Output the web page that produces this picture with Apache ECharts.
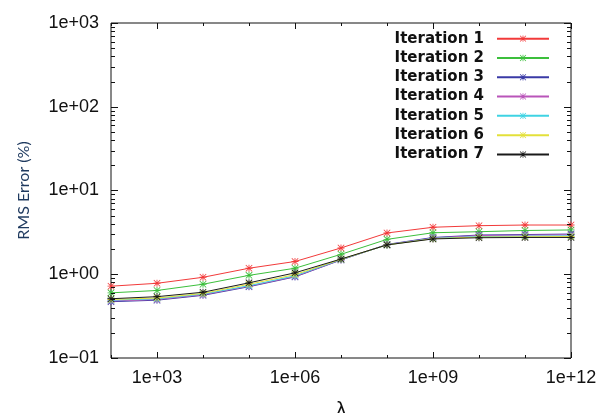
<!DOCTYPE html>
<html>
<head>
<meta charset="utf-8">
<script src="https://cdn.jsdelivr.net/npm/echarts@6/dist/echarts.min.js"></script>
<style>
  html, body { margin: 0; padding: 0; background: #fff; }
  #chart { width: 599px; height: 413px; }
</style>
</head>
<body>
<div id="chart"></div>
<script>
// Regularisation parameter values (one point per decade)
const lambdaValues = [1e2, 1e3, 1e4, 1e5, 1e6, 1e7, 1e8, 1e9, 1e10, 1e11, 1e12];

// RMS error (%) for each iteration
const iteration1 = [0.72, 0.78, 0.92, 1.18, 1.42, 2.06, 3.11, 3.64, 3.80, 3.87, 3.87];
const iteration2 = [0.60, 0.64, 0.76, 0.97, 1.18, 1.73, 2.61, 3.13, 3.22, 3.33, 3.38];
const iteration3 = [0.47, 0.49, 0.56, 0.71, 0.93, 1.48, 2.27, 2.75, 2.94, 2.98, 3.02];
const iteration4 = [0.48, 0.50, 0.57, 0.72, 0.94, 1.49, 2.25, 2.70, 2.90, 2.93, 2.95];
const iteration5 = [0.49, 0.51, 0.58, 0.73, 0.96, 1.50, 2.24, 2.68, 2.82, 2.85, 2.87];
const iteration6 = [0.50, 0.52, 0.59, 0.76, 0.99, 1.51, 2.24, 2.66, 2.78, 2.80, 2.82];
const iteration7 = [0.51, 0.54, 0.61, 0.79, 1.04, 1.52, 2.24, 2.64, 2.73, 2.75, 2.75];

const seriesNames = ['Iteration 1', 'Iteration 2', 'Iteration 3', 'Iteration 4',
                     'Iteration 5', 'Iteration 6', 'Iteration 7'];
const seriesValues = [iteration1, iteration2, iteration3, iteration4,
                      iteration5, iteration6, iteration7];
const seriesColors = ['#f23a3a', '#3cbf3c', '#3a3aa6', '#b955b9', '#3fd3e3', '#e3e03a', '#1a1a1a'];

// Axis ranges and tick positions
const xMin = 1e2, xMax = 1e12;
const yMin = 1e-1, yMax = 1e3;
const xDecadeTicks = [1e2, 1e3, 1e4, 1e5, 1e6, 1e7, 1e8, 1e9, 1e10, 1e11, 1e12];
const xLabelledTicks = [1e3, 1e6, 1e9, 1e12];
const yDecadeTicks = [1e-1, 1e0, 1e1, 1e2, 1e3];
const yMantissas = [2, 3, 4, 5, 6, 7, 8, 9];

// asterisk marker (plus + cross)
const asterisk = 'path://M0 4.4H10V5.6H0Z M4.4 0H5.6V10H4.4Z M0.8 0L10 9.2L9.2 10L0 0.8Z M9.2 0L10 0.8L0.8 10L0 9.2Z';

function expLabel(v) {
  const e = Math.round(Math.log10(v));
  const a = Math.abs(e);
  return '1e' + (e < 0 ? '\u2212' : '+') + (a < 10 ? '0' + a : '' + a);
}

// tick marks drawn inside the frame on all four sides
const tickData = [];
xDecadeTicks.forEach(v => {
  const major = xLabelledTicks.indexOf(v) >= 0;
  tickData.push([v, 1, 0, major ? 6 : 3]);
});
yDecadeTicks.forEach(v => tickData.push([xMin, v, 1, 7]));
for (let i = 0; i < yDecadeTicks.length - 1; i++) {
  yMantissas.forEach(m => tickData.push([xMin, yDecadeTicks[i] * m, 1, 4]));
}

function renderTick(params, api) {
  const kind = api.value(2);
  const len = api.value(3);
  const style = { stroke: '#111', lineWidth: 1 };
  if (kind === 0) {
    const b = api.coord([api.value(0), yMin]);
    const t = api.coord([api.value(0), yMax]);
    const x = Math.round(b[0]) + 0.5;
    return { type: 'group', children: [
      { type: 'line', shape: { x1: x, y1: b[1], x2: x, y2: b[1] - len }, style: style },
      { type: 'line', shape: { x1: x, y1: t[1], x2: x, y2: t[1] + len }, style: style }
    ]};
  }
  const l = api.coord([xMin, api.value(1)]);
  const r = api.coord([xMax, api.value(1)]);
  const y = Math.round(l[1]) + 0.5;
  return { type: 'group', children: [
    { type: 'line', shape: { x1: l[0], y1: y, x2: l[0] + len, y2: y }, style: style },
    { type: 'line', shape: { x1: r[0], y1: y, x2: r[0] - len, y2: y }, style: style }
  ]};
}

const chart = echarts.init(document.getElementById('chart'), null, { renderer: 'canvas' });

const lineSeries = seriesNames.map((name, i) => ({
  name: name,
  type: 'line',
  data: lambdaValues.map((x, j) => [x, seriesValues[i][j]]),
  symbol: asterisk,
  symbolSize: 7,
  showAllSymbol: true,
  lineStyle: { width: 1, color: seriesColors[i] },
  itemStyle: { color: seriesColors[i] },
  emphasis: { disabled: true },
  animation: false,
  z: 3 + i
}));

chart.setOption({
  animation: false,
  backgroundColor: '#ffffff',
  grid: {
    left: 111, right: 28, top: 23, bottom: 55,
    containLabel: false,
    outerBoundsMode: 'none',
    show: true, borderColor: '#111', borderWidth: 1, backgroundColor: 'transparent'
  },
  legend: {
    data: seriesNames,
    orient: 'vertical',
    align: 'right',
    right: 44,
    top: 24,
    itemWidth: 52,
    itemHeight: 8,
    itemGap: 0,
    selectedMode: false,
    textStyle: {
      fontFamily: 'DejaVu Sans',
      fontWeight: 'bold',
      fontSize: 15,
      color: '#111',
      lineHeight: 19.3,
      padding: [0, 8, 0, 0]
    }
  },
  xAxis: {
    type: 'log',
    logBase: 10,
    min: xMin,
    max: xMax,
    splitNumber: 10,
    name: '\u03bb',
    nameLocation: 'middle',
    nameGap: 44,
    nameTextStyle: { fontFamily: 'DejaVu Sans', fontSize: 19, color: '#111' },
    axisLine: { show: false },
    axisTick: { show: false },
    splitLine: { show: false },
    axisLabel: {
      margin: 11,
      fontFamily: 'Liberation Sans',
      fontSize: 18,
      color: '#111',
      formatter: v => {
        const e = Math.round(Math.log10(v));
        return e % 3 === 0 ? expLabel(v) : '';
      }
    }
  },
  yAxis: {
    type: 'log',
    logBase: 10,
    min: yMin,
    max: yMax,
    splitNumber: 4,
    name: 'RMS Error (%)',
    nameLocation: 'middle',
    nameGap: 79,
    nameTextStyle: { fontFamily: 'Lato', fontSize: 16, color: '#1f3a5f' },
    axisLine: { show: false },
    axisTick: { show: false },
    splitLine: { show: false },
    axisLabel: {
      margin: 12,
      fontFamily: 'Liberation Sans',
      fontSize: 18,
      color: '#111',
      formatter: v => expLabel(v)
    }
  },
  series: lineSeries.concat([{
    name: 'frameTicks',
    type: 'custom',
    coordinateSystem: 'cartesian2d',
    data: tickData,
    encode: { x: 0, y: 1 },
    renderItem: renderTick,
    silent: true,
    clip: false,
    z: 10
  }])
});
</script>
</body>
</html>
